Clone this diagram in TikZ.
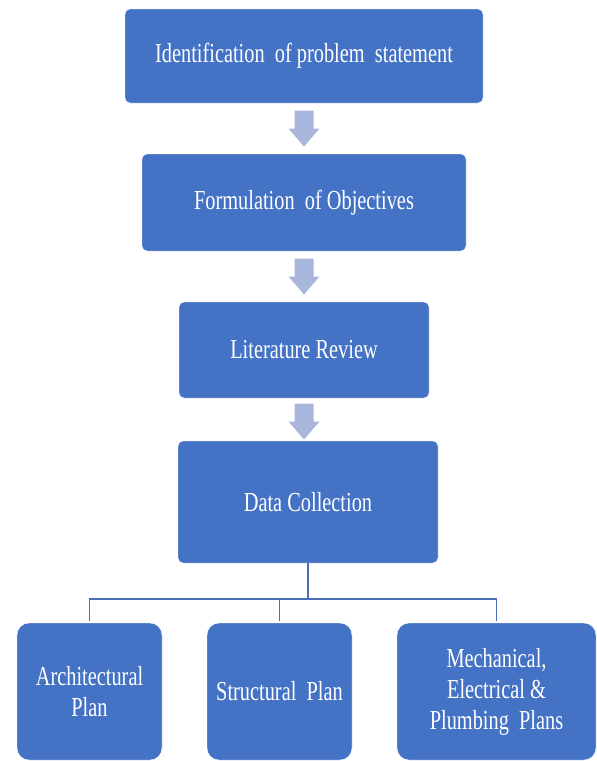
\documentclass[tikz,border=0pt]{standalone}
\usepackage{fontspec}
\newfontfamily\condserif[FakeStretch=0.74]{Liberation Serif}
\usetikzlibrary{calc}
\definecolor{boxblue}{HTML}{4472C4}
\definecolor{arrowblue}{HTML}{A9B6DC}
\definecolor{connblue}{HTML}{4A6FB5}
\tikzset{
  flowbox/.style={rectangle, fill=boxblue, draw=white, line width=0.4pt, rounded corners=5pt,
    text=white, align=center, inner sep=0pt,
    font={\condserif\fontsize{27.5}{31}\selectfont}},
  planbox/.style={flowbox, rounded corners=12pt},
  conn/.style={draw=connblue, line width=1.4pt},
  darrow/.pic={
    \fill[arrowblue] (-9.5,-18) -- (9.5,-18) -- (9.5,0) -- (15.5,0) -- (0,18) -- (-15.5,0) -- (-9.5,0) -- cycle;
  }
}
\begin{document}
\begin{tikzpicture}[x=1pt,y=-1pt]
\useasboundingbox (0,0) rectangle (597,761);
\fill[white] (0,0) rectangle (597,761);

\node[flowbox, minimum width=358pt, minimum height=94pt] (n1) at (304,56) {Identification~ of problem~ statement};
\node[flowbox, minimum width=324pt, minimum height=97pt] (n2) at (304,202.5) {Formulation~ of Objectives};
\node[flowbox, minimum width=250pt, minimum height=96pt] (n3) at (304,350) {Literature Review};
\node[flowbox, minimum width=260pt, minimum height=122pt] (n4) at (308,502) {Data Collection};

\node[planbox, minimum width=145pt, minimum height=137pt] (b1) at (89.5,691.5) {Architectural\\Plan};
\node[planbox, minimum width=145pt, minimum height=137pt] (b2) at (279.5,691.5) {Structural~ Plan};
\node[planbox, minimum width=199pt, minimum height=137pt] (b3) at (496.5,691.5) {Mechanical,\\Electrical \&\\Plumbing~ Plans};

\pic at ($(n1.south)!0.5!(n2.north)$) {darrow};
\pic at ($(n2.south)!0.5!(n3.north)$) {darrow};
\pic at ($(n3.south -| n3.north)!0.5!(n4.north -| n3.north)+(0,2)$) {darrow};

\coordinate (bus) at (308,599);
\draw[conn] (n4.south) -- (bus);
\draw[conn] ($(b1.north)+(0,-2)$) |- (bus) -| ($(b3.north)+(0,-2)$);
\draw[conn] ($(b2.north)+(0,-2)$) -- (b2.north |- bus);
\end{tikzpicture}
\end{document}
